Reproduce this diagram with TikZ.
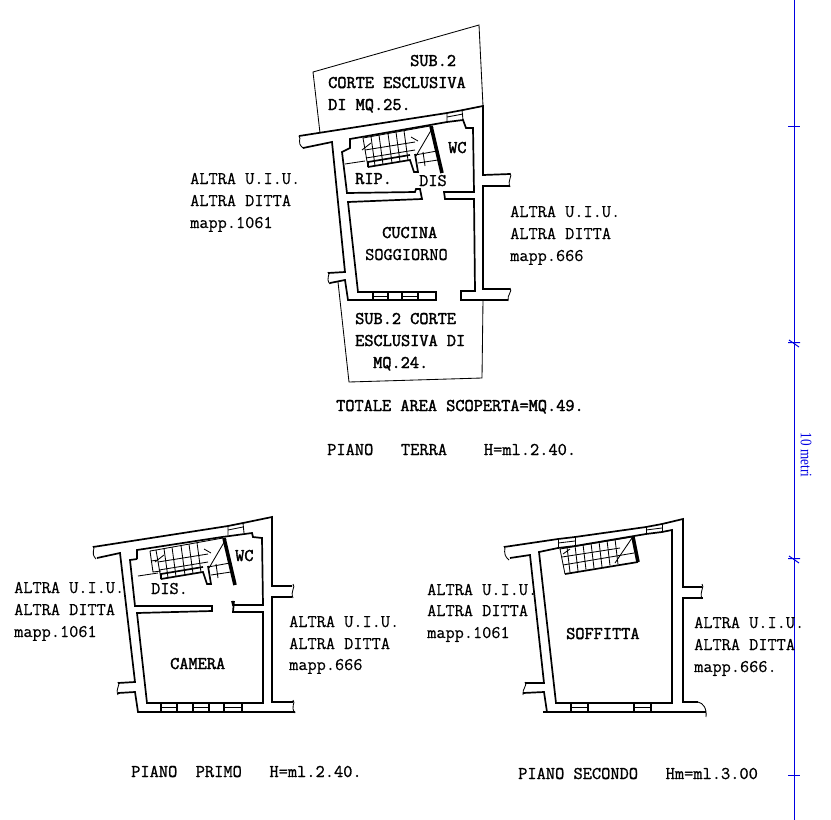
\documentclass[tikz,border=0pt]{standalone}
\usepackage{fontspec}
\newfontfamily\regtt[FakeBold=0.4]{Latin Modern Mono}
\newfontfamily\medtt[FakeBold=1]{Latin Modern Mono}
\newfontfamily\heavytt[FakeBold=2]{Latin Modern Mono}
\newfontfamily\scaleserif{Liberation Serif}
\newcommand{\wallbreak}[4]{\draw[thinw] (#1,#2) .. controls (#1+3,#2+3) and (#1-3,{(#2+#4)/2}) .. (#1+#3,#4);}
\newcommand{\stairlines}{%
  \draw[thinw] (363,138) -- (430,126);
  \draw[thinw] (363,138) -- (368,167);
  \foreach \xx in {371,379,388,396,404}
    \draw[thinw] (\xx,{138-(\xx-363)*0.179}) -- (\xx+4,{167-(\xx+4-367)*0.163});
  \draw[thinw] (365,150) -- (415,142);
  \draw[thinw] (366,158) -- (415,150);
  \draw[thinw] (416,156) -- (433,127);
  \draw[thinw] (362,150) -- (371,143);
  \draw[thinw] (411,137) -- (418,141);
  \draw[thinw] (415,155) -- (437,151);
  \draw[thinw] (418,163) -- (438,160);
  \draw[thinw] (345,164) -- (365,161);
  \draw[thinw] (423,152) -- (425,166);
  \draw[wall] (368,167) -- (410,160) -- (414,172) -- (418,172) -- (415,154);
  \draw[wall] (368,167) -- (368,162) -- (410,155);
  \draw[thickw] (431,126) -- (442,173);
}
\definecolor{scaleblue}{RGB}{0,0,225}
\tikzset{
  wall/.style={line width=1.7pt,line join=miter,black},
  thinw/.style={line width=0.85pt,black},
  thickw/.style={line width=3.6pt,black},
  lab/.style={anchor=base west,inner sep=0pt,font=\fontsize{17.8}{20}\selectfont\regtt},
  mlab/.style={lab,font=\fontsize{17.8}{20}\selectfont\medtt},
  blab/.style={lab,font=\fontsize{17.8}{20}\selectfont\heavytt},
  plab/.style={lab,font=\fontsize{17.9}{20}\selectfont\medtt},
  scaleline/.style={line width=1pt,draw=scaleblue},
  scaletick/.style={line width=1pt,draw=scaleblue},
}
\begin{document}
\begin{tikzpicture}[x=1pt,y=-1pt]
\useasboundingbox (0,0) rectangle (831,820);
% ---------- ground floor
\draw[thinw] (320,133) -- (313,72) -- (479,25) -- (483,106);
\draw[thinw] (338,282) -- (349,382) -- (482,378) -- (483,300);
\draw[wall] (299,136) -- (447,113) -- (463,110) -- (483,106) -- (483,175) -- (510,174);
\draw[wall] (510,186) -- (483,186) -- (483,289) -- (510,289);
\draw[wall] (508,300) -- (461,300) -- (461,291) -- (475,291) -- (474,199) -- (445,199) -- (444,192) -- (474,192) -- (473,128) -- (466,128) -- (463,120) -- (447,122) -- (350,139) -- (350,148) -- (342,152) -- (347,193) -- (415,192) -- (416,189) -- (420,189) -- (422,199) -- (348,202) -- (358,292) -- (373,292) -- (373,300) -- (348,300) -- (345,280) -- (330,283);
\draw[wall] (328,273) -- (345,272) -- (332,142) -- (303,148);
\draw[thinw] (447,113) -- (447,122) (462,110) -- (463,120);
\draw[thinw] (447,117) -- (463,114);
\wallbreak{299}{136}{4}{148}
\wallbreak{510}{173}{0}{187}
\wallbreak{510}{288}{-2}{301}
\wallbreak{328}{272}{2}{284}
\draw[wall] (373,300) -- (436,300) -- (436,292) -- (373,292);
\draw[wall] (388,292) -- (388,300) (402,292) -- (402,300) (418,292) -- (418,300);
\draw[thinw] (373,296) -- (388,296) (402,296) -- (418,296);
\stairlines
% ---------- first floor
\draw[wall] (93,547) -- (228,526) -- (243,523) -- (272,517) -- (272,586) -- (292,586);
\draw[wall] (292,597) -- (272,597) -- (272,702) -- (293,702);
\draw[wall] (295,712) -- (138,712) -- (135,692) -- (118,693);
\draw[wall] (118,683) -- (135,682) -- (120,553) -- (97,558);
\draw[wall] (137,559) -- (137,550) -- (222,537) -- (252,533) -- (253,537) -- (262,538) -- (263,605) -- (233,605) -- (232,601);
\draw[wall] (234,601) -- (233,612) -- (263,612) -- (263,703) -- (147,703) -- (137,613) -- (212,611) -- (212,606) -- (135,606) -- (130,560) -- (137,559);
\draw[thinw] (228,526) -- (228,535) (243,523) -- (244,533);
\draw[thinw] (228,530) -- (243,527);
\wallbreak{93}{546}{3}{559}
\wallbreak{293}{584}{0}{598}
\wallbreak{293}{700}{2}{713}
\wallbreak{118}{682}{0}{695}
\foreach \xa in {161,177,193,209,224,242} \draw[wall] (\xa,703) -- (\xa,712);
\draw[thinw] (161,707) -- (177,707) (193,707) -- (209,707) (224,707) -- (242,707);
\begin{scope}[shift={(-207,412)}]
\stairlines
\end{scope}
\draw[thinw] (150,551) -- (156,550) (150,551) -- (153,572) -- (161,571);
\draw[thinw] (151,561) -- (158,560);
% ---------- second floor
\draw[wall] (504,547) -- (558,539) -- (575,537) -- (646,527) -- (662,524) -- (683,519) -- (683,587) -- (702,587);
\draw[wall] (703,598) -- (683,598) -- (683,702) -- (698,702);
\draw[wall] (706,712) -- (543,712);
\draw[wall] (547,712) -- (544,692) -- (523,693);
\draw[wall] (525,683) -- (544,683) -- (530,555) -- (510,558);
\draw[wall] (558,548) -- (539,552) -- (556,703) -- (672,703) -- (672,530) -- (662,532);
\draw[wall] (558,548) -- (575,546) -- (646,534) -- (662,532);
\draw[thinw] (558,539) -- (558,548) (575,537) -- (575,546) (646,527) -- (646,534) (662,524) -- (662,532);
\draw[thinw] (558,543) -- (575,541) (646,530) -- (662,528);
\wallbreak{504}{546}{5}{560}
\wallbreak{702}{584}{0}{599}
\draw[thinw] (698,702) .. controls (703,703) and (707,708) .. (706,717);
\wallbreak{525}{682}{-2}{695}
\foreach \xa in {571,588,634,651} \draw[wall] (\xa,703) -- (\xa,712);
\draw[thinw] (571,707) -- (588,707) (634,707) -- (651,707);
\draw[wall] (565,574) -- (638,562);
\draw[thinw] (560,549) -- (565,574) (560,549) -- (632,537);
\draw[thickw] (633,537) -- (638,562);
\foreach \xx in {567,575,583,591,599,607,615}
  \draw[thinw] (\xx,{548-(\xx-560)*0.167}) -- (\xx+3,{573-(\xx+3-565)*0.164});
\draw[thinw] (562,557) -- (620,548);
\draw[thinw] (563,565) -- (634,553);
\draw[thinw] (615,563) -- (632,538);
\draw[thinw] (563,554) -- (570,549);
% ---------- scale
\draw[scaleline] (794.5,0) -- (794.5,820);
\draw[scaletick] (788,126.5) -- (800,126.5) (788,775.5) -- (800,775.5);
\draw[scaletick] (788,342.5) -- (800,342.5) (789,340) -- (799,347);
\draw[scaletick] (788,558.5) -- (800,558.5) (789,556) -- (799,563);
\node[rotate=-90,inner sep=0pt,text=scaleblue] (scalelabel) at (806,455) {\scalebox{0.82}[1]{\fontsize{16}{17}\selectfont\scaleserif 10 metri}};
% ---------- text
\node[blab] (t1) at (410,66) {SUB.2};
\node[blab] (t2) at (328,88) {CORTE ESCLUSIVA};
\node[blab] (t3) at (328,110) {DI MQ.25.};
\node[lab] (t4) at (190,184) {ALTRA U.I.U.};
\node[lab] (t5) at (190,206) {ALTRA DITTA};
\node[lab] (t6) at (190,228) {mapp.1061};
\node[lab] (t7) at (510,217) {ALTRA U.I.U.};
\node[lab] (t8) at (510,239) {ALTRA DITTA};
\node[lab] (t9) at (510,261) {mapp.666};
\node[blab] (t10) at (448,153) {WC};
\node[blab] (t11) at (355,184) {RIP.};
\node[mlab] (t12) at (419,186) {DIS};
\node[blab] (t13) at (382,238) {CUCINA};
\node[mlab] (t14) at (365,260) {SOGGIORNO};
\node[blab] (t15) at (355,324) {SUB.2 CORTE};
\node[blab] (t16) at (355,346) {ESCLUSIVA DI};
\node[blab] (t17) at (373,368) {MQ.24.};
\node[blab] (t18) at (336,411) {TOTALE AREA SCOPERTA=MQ.49.};
\node[plab] (t19) at (327,455) {PIANO\ \ \ TERRA\ \ \ \ H=ml.2.40.};
\node[lab] (t20) at (14,593) {ALTRA U.I.U.};
\node[lab] (t21) at (14,615) {ALTRA DITTA};
\node[lab] (t22) at (14,637) {mapp.1061};
\node[blab] (t23) at (235,561) {WC};
\node[mlab] (t24) at (151,594) {DIS.};
\node[lab] (t25) at (289,627) {ALTRA U.I.U.};
\node[lab] (t26) at (289,649) {ALTRA DITTA};
\node[lab] (t27) at (289,670) {mapp.666};
\node[blab] (t28) at (170,669) {CAMERA};
\node[plab] (t29) at (131,777) {PIANO\ \ PRIMO\ \ \ H=ml.2.40.};
\node[lab] (t30) at (427,595) {ALTRA U.I.U.};
\node[lab] (t31) at (427,616) {ALTRA DITTA};
\node[lab] (t32) at (427,638) {mapp.1061};
\node[blab] (t33) at (566,639) {SOFFITTA};
\node[lab] (t34) at (694,628) {ALTRA U.I.U.};
\node[lab] (t35) at (694,650) {ALTRA DITTA};
\node[lab] (t36) at (694,672) {mapp.666.};
\node[plab] (t37) at (518,779) {PIANO SECONDO\ \ \ Hm=ml.3.00};
\end{tikzpicture}
\end{document}
